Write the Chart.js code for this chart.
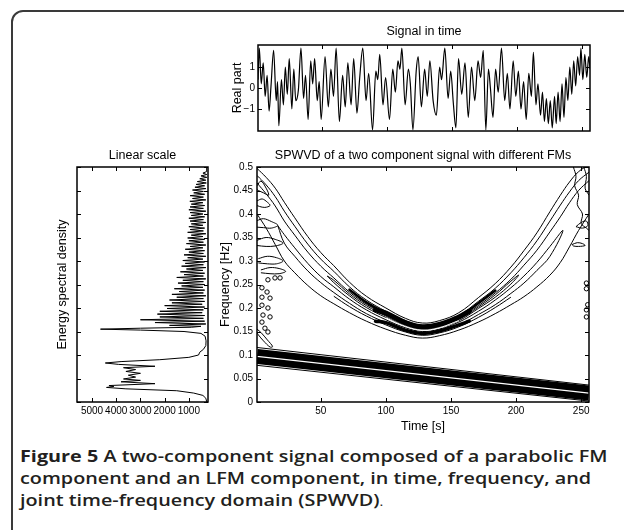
<!DOCTYPE html>
<html>
<head>
<meta charset="utf-8">
<script src="https://cdn.jsdelivr.net/npm/chart.js@4.4.1/dist/chart.umd.min.js"></script>
<style>
  html, body { margin: 0; padding: 0; background: #fff; }
  body { width: 624px; height: 530px; position: relative; overflow: hidden; }
  #frame { position: absolute; left: 11px; top: 10px; width: 660px; height: 600px;
           border: 2px solid #3a3a3a; border-radius: 12px; }
  canvas { position: absolute; }
  #c-time { left: 200px; top: 10px; }
  #c-spec { left: 30px; top: 140px; }
  #c-tf { left: 200px; top: 140px; }
  #caption { position: absolute; left: 20px; top: 445px; font-family: "Open Sans", sans-serif;
             font-size: 16.5px; line-height: 22px; font-weight: 600; color: #231f20; white-space: nowrap;
             transform: scaleX(1.2); transform-origin: 0 0; }
  #caption b { font-weight: 700; }
  #caption .dot { font-weight: 400; font-size: 12px; }
</style>
</head>
<body>
<div id="frame"></div>
<canvas id="c-time" width="410" height="130"></canvas>
<canvas id="c-spec" width="185" height="300"></canvas>
<canvas id="c-tf" width="410" height="300"></canvas>
<div id="caption"><b>Figure 5</b> A two-component signal composed of a parabolic FM<br>component and an LFM component, in time, frequency, and<br>joint time-frequency domain (SPWVD)<span class="dot">.</span></div>
<script>
// ---- tick labels ----
const timeTicks = [50, 100, 150, 200, 250];
const realTicks = [-1, 0, 1];
const freqTicks = [0, 0.05, 0.1, 0.15, 0.2, 0.25, 0.3, 0.35, 0.4, 0.45, 0.5];
const energyTicks = [1000, 2000, 3000, 4000, 5000];

// ---- signal in time (extremes) ----
const sigTime = [1, 2, 3.5, 5, 6.5, 8, 9.5, 11, 13, 15, 16, 17, 19, 20.5, 22, 23.5, 25, 27, 28.5, 30,
  32, 34, 36, 37.5, 39.5, 41.5, 43, 44.5, 46.5, 48, 49.5, 52.5, 55, 57, 59, 61, 63.5, 66, 68, 70,
  72.5, 74.5, 77, 79, 81.5, 84, 86, 89, 91.5, 93, 94.5, 97, 99, 102, 104.5, 106.5, 108.5, 110, 111.5, 114,
  116.5, 118, 120, 122.5, 124, 126.5, 129, 131, 133, 135.5, 138, 140.5, 142, 144.5, 147, 149, 151, 153, 155, 157.5,
  160, 162.5, 165, 167.5, 170, 172, 174, 176, 178, 179.5, 181.5, 183.5, 185.5, 188, 190.5, 192.5, 194.5, 197, 199, 201,
  203, 205, 207, 209, 211, 212.5, 214.5, 216, 218, 219.5, 221, 222.5, 224, 225.5, 227, 228.8, 230, 231.5, 233, 234.5,
  236, 237.5, 239, 240.5, 242, 243.5, 245, 246.5, 248, 249, 250.5, 252, 253.5, 255, 256];
const sigReal = [0.4, 1.9, 0.2, 1.2, -0.4, 0.6, -1.1, 0.1, 1.8, -0.6, 0.3, -1.8, 0.4, -0.8, 1.0, -0.3, 1.4, -1.0, 0.9, -0.6,
  -0.1, 1.9, -0.5, 0.6, -1.5, 1.3, 0.2, 1.4, -0.6, 0.3, -1.5, 1.5, -0.9, 0.9, -0.4, 1.9, -1.6, 0.6, -0.9, 1.2,
  -0.8, 1.4, -1.2, 0.4, 1.9, -0.6, 0.7, -2.0, 0.8, 0.4, 1.6, -0.8, 0.5, -1.5, 0.9, -0.2, 1.3, 0.9, 1.9, -0.8,
  0.9, 0.2, -2.0, 0.8, 1.5, -0.9, 0.9, -0.4, 1.3, -0.6, -1.3, 1.0, 0.4, 1.9, -0.5, 0.8, -0.7, -1.9, 1.4, -0.3,
  1.2, -1.4, 1.0, -0.6, 1.3, 0.5, 1.8, -2.0, 0.9, 0.0, -1.4, 0.9, -0.2, 1.9, -0.6, 0.7, -1.0, 1.3, -0.4, 0.8,
  -1.0, 0.3, -1.5, 0.7, -0.4, 1.7, -0.8, 0.2, -1.3, -0.2, -1.6, -0.5, -1.7, -0.6, -1.9, -0.4, -1.7, -0.2, -1.6, 0.2,
  -1.4, 0.5, -0.6, 1.0, -0.3, 1.3, 0.1, 1.5, 0.6, 1.9, 0.4, 1.6, 0.5, 1.5, 0.9];

// ---- energy spectral density ----
const specFreq = [0.000, 0.008, 0.014, 0.019, 0.024, 0.028, 0.031, 0.033, 0.035, 0.039,
  0.043, 0.046, 0.049, 0.053, 0.057, 0.061, 0.065, 0.069, 0.073, 0.076,
  0.080, 0.083, 0.086, 0.090, 0.095, 0.100, 0.106, 0.112, 0.120, 0.130,
  0.140, 0.146, 0.150, 0.153, 0.155, 0.157, 0.159, 0.161,
  0.163, 0.166, 0.169, 0.172, 0.175, 0.178, 0.181, 0.184, 0.187, 0.190,
  0.193, 0.196, 0.199, 0.202, 0.205, 0.208, 0.211, 0.214, 0.217, 0.220,
  0.223, 0.226, 0.229, 0.232, 0.235, 0.238, 0.241, 0.244, 0.247, 0.250,
  0.253, 0.256, 0.259, 0.262, 0.265, 0.268, 0.271, 0.274, 0.277, 0.280,
  0.283, 0.286, 0.289, 0.292, 0.295, 0.298, 0.301, 0.304, 0.307, 0.310,
  0.313, 0.316, 0.319, 0.322, 0.325, 0.328, 0.331, 0.334, 0.337, 0.340,
  0.343, 0.346, 0.349, 0.352, 0.355, 0.358, 0.361, 0.364, 0.367, 0.370,
  0.373, 0.376, 0.379, 0.382, 0.385, 0.388, 0.391, 0.394, 0.397, 0.400,
  0.403, 0.406, 0.409, 0.412, 0.415, 0.418, 0.421, 0.424, 0.427, 0.430,
  0.433, 0.436, 0.439, 0.442, 0.445, 0.448, 0.451, 0.454, 0.457, 0.460,
  0.463, 0.466, 0.469, 0.472, 0.475, 0.478, 0.481, 0.484, 0.487,
  0.490, 0.495, 0.500];
const specEnergy = [260, 300, 420, 800, 1500, 3600, 4400, 4100, 4300, 2400,
  3800, 3000, 3700, 3200, 3500, 3000, 3600, 3200, 3700, 2400,
  3900, 4450, 3800, 2200, 1000, 600, 550, 400, 300, 290,
  330, 500, 1200, 3000, 4650, 3000, 900, 500,
  1800, 300, 2400, 350, 3000, 400, 2200, 350, 2300, 450,
  2200, 400, 1900, 350, 2000, 450, 1700, 350, 1800, 400,
  1500, 300, 1700, 400, 1400, 350, 1600, 420, 1300, 350,
  1450, 400, 1250, 300, 1500, 400, 1200, 350, 1350, 420,
  1100, 300, 1300, 400, 1150, 350, 1250, 420, 1050, 300,
  1200, 400, 1000, 350, 1150, 420, 950, 300, 1100, 400,
  1000, 350, 1050, 420, 900, 300, 1050, 400, 950, 350,
  1000, 420, 900, 300, 950, 400, 1000, 350, 900, 420,
  950, 300, 1000, 400, 950, 350, 900, 420, 960, 300,
  850, 400, 950, 350, 800, 400, 850, 300, 750, 350,
  700, 280, 650, 300, 550, 260, 500, 260, 420,
  280, 270, 260];

// ---- SPWVD contours: parabolic FM ridge (frequency at each time) ----
const ridgeTime = [1, 8, 15, 22, 30, 40, 50, 60, 72, 85, 100, 115, 128, 141, 156, 171, 184, 196, 206, 216, 226, 234, 241, 248, 256];
const ridgeInner = [.497, .478, .455, .425, .392, .352, .318, .290, .255, .225, .200, .178, .168, .173, .190, .222, .252, .287, .322, .360, .405, .440, .468, .490, .505];
const ridgeMid1 = [.482, .462, .437, .406, .374, .336, .304, .278, .245, .217, .193, .173, .163, .168, .184, .214, .242, .275, .307, .343, .385, .419, .447, .471, .489];
const ridgeMid2 = [.466, .443, .417, .385, .355, .319, .289, .264, .234, .208, .186, .166, .158, .163, .178, .205, .232, .261, .291, .323, .362, .394, .424, .450, .471];
const ridgeOuter = [.400, .370, .335, .300, .275, .248, .226, .209, .190, .172, .155, .142, .136, .141, .153, .170, .188, .207, .224, .245, .270, .297, .330, .365, .400];
const lowTime = [60, 72, 85, 100, 115, 128, 141, 156, 171, 184, 196];
const ridgeLow = [.225, .203, .183, .164, .149, .142, .147, .160, .180, .201, .223];
// dense part of the ridge near its vertex
const denseTime = [72, 85, 100, 115, 128, 141, 156, 171, 184];
const denseUpper = [.239, .212, .189, .169, .160, .165, .181, .210, .237];
const coreTime = [92, 100, 115, 128, 141, 156, 164];
const coreUpper = [.196, .189, .169, .160, .165, .181, .193];
const coreLower = [.172, .169, .153, .146, .151, .164, .172];
const gapTime = [100, 115, 128, 141, 156];
const gapFreq = [.179, .161, .153, .158, .173];
const loopA = [[17, .375], [22, .356], [30, .328], [40, .295], [50, .267], [60, .245], [72, .219], [85, .196], [100, .175], [115, .158],
  [128, .150], [141, .155], [156, .170], [171, .193], [184, .217], [196, .243], [206, .268], [216, .297], [226, .331], [236, .365],
  [226, .310], [216, .280], [206, .253], [196, .231], [184, .207], [171, .186], [156, .164], [141, .151], [128, .146], [115, .153],
  [100, .169], [85, .188], [72, .210], [60, .233], [50, .254], [40, .279], [30, .310], [22, .338], [17, .375]];
const loopB = [[55, .268], [60, .259], [72, .230], [85, .205], [100, .183], [115, .164], [128, .156], [141, .161], [156, .176], [171, .202],
  [184, .228], [196, .257], [202, .270], [196, .251], [184, .223], [171, .199], [156, .173], [141, .159], [128, .154], [115, .162],
  [100, .180], [85, .201], [72, .226], [60, .254], [55, .268]];
// cross-term blobs near the edges
const edgeLoops = [
  [[1, .460], [4, .470], [8, .455], [10, .440], [6, .445], [2, .450], [1, .452]],
  [[1, .428], [5, .432], [9, .425], [11, .418], [7, .414], [3, .416], [1, .418]],
  [[1, .386], [6, .390], [12, .384], [17, .376], [12, .370], [6, .371], [1, .372]],
  [[1, .344], [8, .350], [15, .346], [21, .338], [15, .332], [8, .331], [1, .333]],
  [[2, .305], [9, .310], [16, .307], [21, .300], [16, .294], [9, .294], [2, .296]],
  [[4, .281], [11, .286], [18, .284], [23, .278], [18, .273], [11, .273], [4, .275]],
  [[1, .155], [4, .148], [9, .132], [13, .118], [11, .117], [6, .130], [2, .143], [1, .148]],
  [[243, .335], [247, .339], [251, .337], [253, .333], [248, .331], [244, .332], [243, .335]],
  [[246, .373], [250, .382], [254, .385], [255, .375], [251, .370], [246, .373]],
  [[244, .500], [246, .480], [245, .460], [248, .440], [247, .420], [251, .400], [250, .380], [254, .370], [256, .365]],
  [[252, .500], [254, .480], [253, .455], [256, .440]]
];
const edgeDots = [[9.4, .26], [14.8, .264], [18.7, .264], [4.8, .243], [8.7, .234], [4.8, .223], [11, .221], [4.8, .206],
  [9.4, .2], [5.6, .185], [11, .181], [4.8, .17], [7.1, .157], [9.4, .149],
  [254, .253], [254, .241], [254, .196], [254, .181], [255, .207]];
// LFM component
const lfmCenter = [[1, .097], [256, .019]];
const lfmUpper = [[1, .116], [256, .036]];
const lfmLower = [[1, .078], [256, .002]];

// ---- helpers ----
Chart.defaults.font.family = "'Liberation Sans', Arial, sans-serif";
Chart.defaults.color = '#000';

const pairs = arr => arr.map(([x, y]) => ({ x, y }));
const zip = (xs, ys) => xs.map((x, i) => ({ x, y: ys[i] }));
const line = (data, extra) => Object.assign({
  data, showLine: true, borderColor: '#000', borderWidth: 1, pointRadius: 0, tension: 0.4, clip: 0
}, extra || {});

const boxTicks = {
  id: 'boxTicks',
  afterDatasetsDraw(chart) {
    const { ctx, chartArea: a, scales } = chart;
    const len = 4;
    ctx.save();
    ctx.strokeStyle = '#000';
    ctx.lineWidth = 1;
    ctx.beginPath();
    scales.x.ticks.forEach(t => {
      const px = Math.round(scales.x.getPixelForValue(t.value)) + 0.5;
      ctx.moveTo(px, a.bottom); ctx.lineTo(px, a.bottom - len);
      ctx.moveTo(px, a.top); ctx.lineTo(px, a.top + len);
    });
    scales.y.ticks.forEach(t => {
      const py = Math.round(scales.y.getPixelForValue(t.value)) + 0.5;
      ctx.moveTo(a.left, py); ctx.lineTo(a.left + len, py);
      ctx.moveTo(a.right, py); ctx.lineTo(a.right - len, py);
    });
    ctx.stroke();
    ctx.lineWidth = 1.5;
    ctx.strokeRect(a.left, a.top, a.right - a.left, a.bottom - a.top);
    ctx.restore();
  }
};

function scaleX(opts) {
  return Object.assign({
    type: 'linear',
    grid: { display: false, drawTicks: false },
    border: { display: false },
    ticks: { font: { size: 10.5 }, padding: 2, maxRotation: 0, autoSkip: false }
  }, opts);
}

function baseOptions(title, titlePad, scales) {
  return {
    responsive: false,
    animation: false,
    events: [],
    layout: { padding: 0 },
    plugins: {
      legend: { display: false },
      tooltip: { enabled: false },
      title: { display: true, text: title, fullSize: false, font: { size: 12.5, weight: 'normal' }, padding: titlePad }
    },
    scales
  };
}

// ---- signal in time ----
const timeOpts = baseOptions('Signal in time', { top: 14.5, bottom: 5.5 }, {
  x: scaleX({
    min: 1, max: 256,
    afterBuildTicks: s => { s.ticks = timeTicks.map(v => ({ value: v })); },
    afterFit: s => { s.height = 9; },
    ticks: { display: false }
  }),
  y: scaleX({
    min: -2.05, max: 2.05,
    afterBuildTicks: s => { s.ticks = realTicks.map(v => ({ value: v })); },
    afterFit: s => { s.width = 58; },
    ticks: { font: { size: 10 }, padding: 3, callback: v => v < 0 ? '\u2212' + Math.abs(v) : String(v) },
    title: { display: true, text: 'Real part', font: { size: 12.5 }, padding: { top: 30.5, bottom: 0 } }
  })
});
timeOpts.layout.padding = { right: 20 };
new Chart(document.getElementById('c-time'), {
  type: 'scatter',
  data: { datasets: [line(zip(sigTime, sigReal), { borderWidth: 1.2, cubicInterpolationMode: 'monotone' })] },
  options: timeOpts,
  plugins: [boxTicks]
});

// ---- energy spectral density ----
const specOpts = baseOptions('Linear scale', { top: 8, bottom: 4 }, {
  x: scaleX({
    min: 210, max: 5620, reverse: true,
    afterBuildTicks: s => { s.ticks = energyTicks.map(v => ({ value: v })); },
    afterFit: s => { s.height = 38; },
    ticks: { font: { size: 10 }, padding: 3, maxRotation: 0, autoSkip: false, callback: v => String(v) }
  }),
  y: scaleX({
    min: 0, max: 0.5,
    afterBuildTicks: s => { s.ticks = freqTicks.map(v => ({ value: v })); },
    afterFit: s => { s.width = 47; },
    ticks: { display: false },
    title: { display: true, text: 'Energy spectral density', font: { size: 12.5 }, padding: { top: 25.5, bottom: 0 } }
  })
});
specOpts.layout.padding = { right: 7 };
new Chart(document.getElementById('c-spec'), {
  type: 'scatter',
  data: { datasets: [line(specFreq.map((f, i) => ({ x: specEnergy[i], y: f })), { tension: 0 })] },
  options: specOpts,
  plugins: [boxTicks]
});

// ---- SPWVD ----
const tfOpts = baseOptions('SPWVD of a two component signal with different FMs', { top: 8, bottom: 4 }, {
  x: scaleX({
    min: 1, max: 256,
    afterBuildTicks: s => { s.ticks = timeTicks.map(v => ({ value: v })); },
    afterFit: s => { s.height = 38; },
    ticks: { font: { size: 10 }, padding: 3, maxRotation: 0, autoSkip: false },
    title: { display: true, text: 'Time [s]', font: { size: 12.5 }, padding: { top: 0, bottom: 5.5 } }
  }),
  y: scaleX({
    min: 0, max: 0.5,
    afterBuildTicks: s => { s.ticks = freqTicks.map(v => ({ value: v })); },
    afterFit: s => { s.width = 57; },
    ticks: { font: { size: 10 }, padding: 4, callback: v => String(v) },
    title: { display: true, text: 'Frequency [Hz]', font: { size: 12.5 }, padding: { top: 18.5, bottom: 0 } }
  })
});
tfOpts.layout.padding = { right: 21 };

// the first dataset is painted on top, so the white gaps come first
const tfSets = [
  line(pairs(lfmCenter), { borderWidth: 1.2, tension: 0, borderColor: '#fff' }),
  line(zip(gapTime, gapFreq), { borderWidth: 1, borderColor: '#fff' }),
  line(pairs(lfmCenter), { borderWidth: 15, tension: 0, borderCapStyle: 'butt' }),
  line(pairs(lfmUpper), { tension: 0 }),
  line(pairs(lfmLower), { tension: 0 }),
  line(zip(coreTime, coreUpper), { borderWidth: 5, borderCapStyle: 'round' }),
  line(zip(coreTime, coreLower), { borderWidth: 3.5, borderCapStyle: 'round' }),
  line(zip(denseTime, denseUpper), { borderWidth: 2.5, borderCapStyle: 'round' }),
  line(zip(ridgeTime, ridgeInner)),
  line(zip(ridgeTime, ridgeMid1)),
  line(zip(ridgeTime, ridgeMid2)),
  line(zip(ridgeTime, ridgeOuter)),
  line(zip(lowTime, ridgeLow)),
  line(pairs(loopA)),
  line(pairs(loopB))
];
edgeLoops.forEach(l => tfSets.push(line(pairs(l), { tension: 0.35 })));
tfSets.push({
  data: pairs(edgeDots), showLine: false, pointRadius: 2.2, pointStyle: 'circle',
  pointBorderColor: '#000', pointBackgroundColor: '#fff', pointBorderWidth: 1, clip: 0
});

new Chart(document.getElementById('c-tf'), {
  type: 'scatter',
  data: { datasets: tfSets },
  options: tfOpts,
  plugins: [boxTicks]
});
</script>
</body>
</html>
